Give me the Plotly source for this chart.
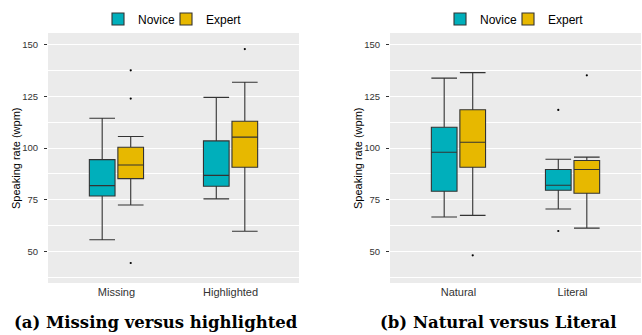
import plotly.graph_objects as go

# ---- data ----
groups_a = ["Missing", "Highlighted"]
nov_a_q1 = [76.8, 81.5]
nov_a_med = [81.8, 86.8]
nov_a_q3 = [94.4, 103.5]
nov_a_lo = [55.6, 75.4]
nov_a_hi = [114.5, 124.6]
exp_a_q1 = [85.2, 90.7]
exp_a_med = [91.8, 105.3]
exp_a_q3 = [100.4, 113.0]
exp_a_lo = [72.4, 59.7]
exp_a_hi = [105.6, 131.9]
out_a_group = ["Missing", "Missing", "Missing", "Highlighted"]
out_a_series = ["Expert", "Expert", "Expert", "Expert"]
out_a_val = [137.7, 124.0, 44.3, 148.0]

groups_b = ["Natural", "Literal"]
nov_b_q1 = [79.1, 79.6]
nov_b_med = [98.0, 82.0]
nov_b_q3 = [110.1, 89.6]
nov_b_lo = [66.6, 70.5]
nov_b_hi = [133.9, 94.6]
exp_b_q1 = [90.7, 78.1]
exp_b_med = [102.8, 89.6]
exp_b_q3 = [118.6, 94.0]
exp_b_lo = [67.4, 61.2]
exp_b_hi = [136.6, 95.6]
out_b_group = ["Literal", "Literal", "Natural", "Literal"]
out_b_series = ["Novice", "Novice", "Expert", "Expert"]
out_b_val = [118.5, 59.8, 48.0, 135.3]

y_ticks = [50, 75, 100, 125, 150]
y_minor = [37.5, 62.5, 87.5, 112.5, 137.5]
y_title = "Speaking rate (wpm)"
captions = ["(a) Missing versus highlighted", "(b) Natural versus Literal"]

series = ["Novice", "Expert"]
colors = {"Novice": "#00AFBB", "Expert": "#E7B800"}
offsets = {"Novice": -0.125, "Expert": 0.125}
BOXW = 0.225

W, H = 642, 335
# one legend per entry: (panel, series) -> legend id and left position (px)
legend_ids = {("a", "Novice"): ("legend", 98), ("a", "Expert"): ("legend2", 166),
              ("b", "Novice"): ("legend3", 440), ("b", "Expert"): ("legend4", 508)}

fig = go.Figure()

def add_panel(panel, xa, ya, groups, stats, og, os_, ov):
    idx = {g: i for i, g in enumerate(groups)}
    for s in series:
        q1, med, q3, lo, hi = stats[s]
        fig.add_trace(go.Box(
            x=[idx[g] + offsets[s] for g in groups],
            q1=q1, median=med, q3=q3, lowerfence=lo, upperfence=hi,
            width=BOXW, whiskerwidth=1,
            fillcolor=colors[s], line=dict(color="#333333", width=1.1),
            name=s, xaxis=xa, yaxis=ya, legend=legend_ids[(panel, s)][0],
            boxpoints=False, hoverinfo="skip",
        ))
    fig.add_trace(go.Scatter(
        x=[idx[g] + offsets[s] for g, s in zip(og, os_)], y=ov,
        mode="markers", marker=dict(color="#000000", size=2.2),
        showlegend=False, xaxis=xa, yaxis=ya, hoverinfo="skip",
    ))

add_panel("a", "x", "y", groups_a,
          {"Novice": (nov_a_q1, nov_a_med, nov_a_q3, nov_a_lo, nov_a_hi),
           "Expert": (exp_a_q1, exp_a_med, exp_a_q3, exp_a_lo, exp_a_hi)},
          out_a_group, out_a_series, out_a_val)
add_panel("b", "x2", "y2", groups_b,
          {"Novice": (nov_b_q1, nov_b_med, nov_b_q3, nov_b_lo, nov_b_hi),
           "Expert": (exp_b_q1, exp_b_med, exp_b_q3, exp_b_lo, exp_b_hi)},
          out_b_group, out_b_series, out_b_val)

ydom = [1 - 283 / H, 1 - 33 / H]
yrange = [34.6, 155.8]

def xaxis(dom, groups):
    return dict(domain=dom, range=[-0.6, 1.6], tickvals=list(range(len(groups))),
                ticktext=groups, showgrid=False, zeroline=False,
                ticks="", ticklabelstandoff=1,
                tickfont=dict(size=11, color="#333333"), fixedrange=True)

def yaxis(anchor):
    return dict(domain=ydom, range=yrange, anchor=anchor, tickvals=y_ticks,
                showgrid=True, gridcolor="#FFFFFF", gridwidth=1.2, zeroline=False,
                ticks="outside", ticklen=3, tickcolor="#333333", ticklabelstandoff=4,
                tickfont=dict(size=9.5, color="#333333"),
                minor=dict(tickvals=y_minor, showgrid=True,
                           gridcolor="#FFFFFF", gridwidth=0.6, ticks=""))

legends = {}
for (panel, s), (lid, lx) in legend_ids.items():
    legends[lid] = dict(orientation="h", x=lx / W, xanchor="left", yanchor="middle",
                        y=1 - 19 / H, font=dict(size=12), bgcolor="rgba(0,0,0,0)",
                        itemwidth=30)

ann = []
for cap, cx in zip(captions, [156, 498]):
    ann.append(dict(text="<b>" + cap + "</b>", x=cx / W, y=1 - 322 / H,
                    xref="paper", yref="paper", showarrow=False, xanchor="center",
                    yanchor="middle",
                    font=dict(family="DejaVu Serif, serif", size=16.5, color="#000000")))
for tx in [16, 358]:
    ann.append(dict(text=y_title, x=tx / W, y=(ydom[0] + ydom[1]) / 2, textangle=-90,
                    xref="paper", yref="paper", showarrow=False, xanchor="center",
                    yanchor="middle", font=dict(size=11, color="#000000")))

fig.update_layout(
    width=W, height=H, margin=dict(l=0, r=0, t=0, b=0),
    paper_bgcolor="#FFFFFF", plot_bgcolor="#EBEBEB",
    font=dict(family="Liberation Sans, Arial, sans-serif", color="#000000"),
    xaxis=xaxis([48 / W, 299 / W], groups_a),
    yaxis=yaxis("x"),
    xaxis2=xaxis([390 / W, 641 / W], groups_b),
    yaxis2=yaxis("x2"),
    showlegend=True,
    annotations=ann,
    **legends,
)

fig.write_html("out.html", config={"displayModeBar": False},
               post_script="document.body.style.margin='0';document.body.style.overflow='hidden';")
